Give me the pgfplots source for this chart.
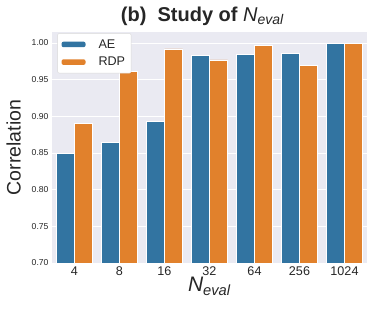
\documentclass[border=0pt]{standalone}
\usepackage{pgfplots}
\pgfplotsset{compat=1.18}
\usepackage{fontspec}
\setmainfont{Liberation Sans}
\definecolor{sbblue}{HTML}{3274A1}
\definecolor{sborange}{HTML}{E1812C}
\definecolor{sbbg}{HTML}{EAEAF2}
\definecolor{txt}{HTML}{262626}
\begin{document}
\begin{tikzpicture}
\begin{axis}[
  scale only axis, width=315pt, height=231pt,
  xmin=-0.5, xmax=6.5, ymin=0.70, ymax=1.015,
  axis background/.style={fill=sbbg},
  axis line style={draw=none},
  ybar=0pt, bar width=0.4,
  xtick={0,1,2,3,4,5,6}, xticklabels={4,8,16,32,64,256,1024},
  ytick={0.70,0.75,0.80,0.85,0.90,0.95,1.00},
  /pgf/number format/assume math mode=true,
  yticklabel style={/pgf/number format/fixed, /pgf/number format/fixed zerofill, /pgf/number format/precision=2, font=\fontsize{8.6}{10}\selectfont, text=txt},
  xticklabel style={font=\fontsize{12.6}{14}\selectfont, text=txt},
  major tick length=0pt,
  ymajorgrids, grid style={white, line width=0.9pt},
  title={\bfseries (b)\ \ Study of \mdseries\textit{N}\textsubscript{\textit{eval}}},
  title style={font=\fontsize{20}{23}\selectfont, text=txt, yshift=-3pt, xshift=-7pt},
  ylabel={Correlation},
  ylabel style={font=\fontsize{19.5}{22}\selectfont, text=txt, yshift=4pt},
  xlabel={\textit{N}\textsubscript{\textit{eval}}},
  xlabel style={font=\fontsize{21}{24}\selectfont, text=txt, yshift=5pt},
  legend cell align=left,
  legend style={at={(0.017,0.995)}, anchor=north west, draw=black!15, rounded corners=2pt, fill=white, font=\fontsize{12.6}{14}\selectfont, text=txt, inner xsep=4pt, inner ysep=4pt, row sep=3.5pt},
  legend image code/.code={\fill[#1, draw=none] (0pt,-2.8pt) rectangle (24pt,2.8pt); \path[draw=none, fill=none] (0pt,0pt) -- (35pt,0pt);},
]
\addplot[fill=sbblue, draw=white, line width=0.7pt] coordinates {(0,0.849) (1,0.865) (2,0.893) (3,0.983) (4,0.985) (5,0.986) (6,0.999)};
\addlegendentry{AE}
\addplot[fill=sborange, draw=white, line width=0.7pt] coordinates {(0,0.890) (1,0.961) (2,0.992) (3,0.977) (4,0.997) (5,0.970) (6,1.000)};
\addlegendentry{RDP}
\end{axis}
\pgfresetboundingbox
\path[use as bounding box] ([shift={(-52pt,-46pt)}]current axis.south west) rectangle ([shift={(7pt,32pt)}]current axis.north east);
\end{tikzpicture}
\end{document}
